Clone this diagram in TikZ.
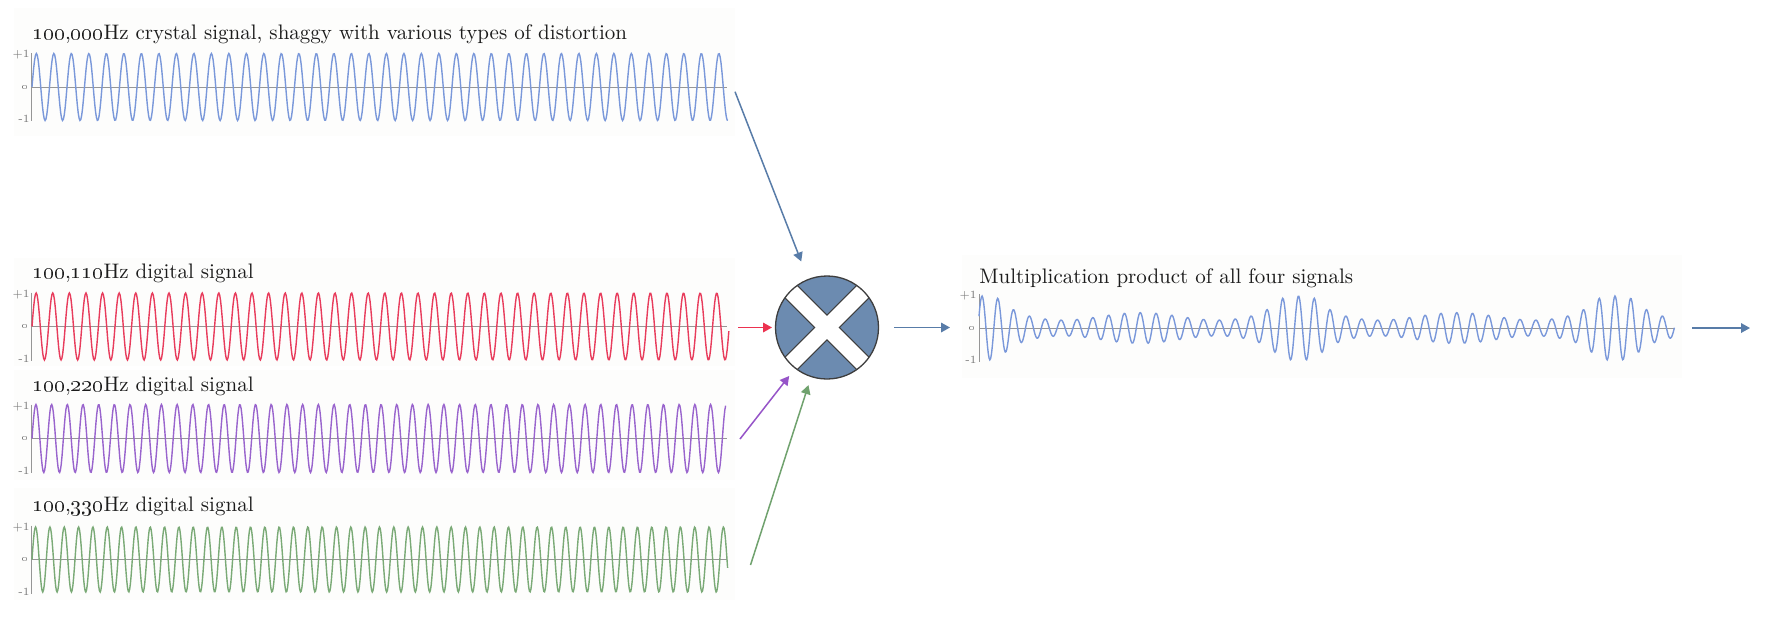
\documentclass[tikz,border=0pt]{standalone}
\usetikzlibrary{arrows.meta,calc}
\definecolor{wblue}{RGB}{122,152,218}
\definecolor{wred}{RGB}{232,60,92}
\definecolor{wpurple}{RGB}{153,100,205}
\definecolor{wgreen}{RGB}{122,170,118}
\definecolor{asteel}{RGB}{88,124,168}
\definecolor{ared}{RGB}{236,50,80}
\definecolor{apurple}{RGB}{150,84,200}
\definecolor{agreen}{RGB}{112,162,110}
\definecolor{circfill}{RGB}{108,139,176}
\definecolor{circline}{RGB}{62,62,62}
\definecolor{axgray}{RGB}{150,150,150}
\definecolor{labgray}{RGB}{120,120,120}
\definecolor{titlecol}{RGB}{28,28,28}
\definecolor{panelbg}{RGB}{253,253,252}
\begin{document}
\begin{tikzpicture}[x=0.5pt,y=-0.5pt,
  panel/.style={fill=panelbg},
  zeroline/.style={draw=axgray,line width=0.5pt},
  wave/.style={line width=0.7pt},
  lab/.style={font=\fontsize{5.5}{6}\selectfont,text=labgray,inner sep=0pt,anchor=east},
  ttl/.style={font=\fontsize{10.5}{12}\selectfont,text=titlecol,inner sep=0pt,anchor=base west},
  conn/.style={line width=0.75pt,-{Triangle[length=4.5pt,width=4.8pt]}},
  mulnode/.style={circle,minimum size=51.5pt,inner sep=0pt,outer sep=0pt,fill=circfill},
  declare function={
    dd(\t)=abs(\t-round(\t));
    qq(\t)=dd(\t)/0.08;
    gg(\t)=1/(1+qq(\t)*qq(\t)*qq(\t)*qq(\t));
    env(\t)=gg(\t)+(1-gg(\t))*(0.36+0.12*cos(720*frac(\t)));
  }
]
\useasboundingbox (0,0) rectangle (1783,639);
\fill[white] (0,0) rectangle (1783,639);

% panel backgrounds
\path[panel] (14,8) rectangle (735,136);
\path[panel] (14,258) rectangle (735,366);
\path[panel] (14,370) rectangle (735,480);
\path[panel] (14,488) rectangle (735,600);
\path[panel] (962,255) rectangle (1682,378);

% titles
\node[ttl] (t1) at (32,39.3) {\oldstylenums{100},\oldstylenums{000}Hz crystal signal, shaggy with various types of distortion};
\node[ttl] (t2) at (32,278.5) {\oldstylenums{100},\oldstylenums{110}Hz digital signal};
\node[ttl] (t3) at (32,391) {\oldstylenums{100},\oldstylenums{220}Hz digital signal};
\node[ttl] (t4) at (32,511.5) {\oldstylenums{100},\oldstylenums{330}Hz digital signal};
\node[ttl] (t5) at (979,283) {Multiplication product of all four signals};

% axes of the left panels
\foreach \ax/\nm in {87/a, 326.5/b, 438.5/c, 559.5/d}{
  \draw[zeroline] (31,\ax-34) -- (31,\ax+34);
  \draw[zeroline] (31,\ax) -- (727,\ax);
  \node[lab] (p\nm) at (30,\ax-32) {+1};
  \node[lab] (z\nm) at (29,\ax) {\oldstylenums{0}};
  \node[lab] (m\nm) at (30,\ax+32) {-1};
}
% axes of the product panel
\draw[zeroline] (979.3,294) -- (979.3,362);
\draw[zeroline] (979.3,328) -- (1675,328);
\node[lab] (pe) at (977,296) {+1};
\node[lab] (ze) at (976,328) {\oldstylenums{0}};
\node[lab] (me) at (977,360) {-1};

% waves
\draw[wave,wblue] plot[domain=0:39.77,samples=800] ({32+17.5*\x},{87-33.5*sin(360*frac(\x))});
\draw[wave,wred] plot[domain=0:41.99,samples=840] ({32+16.6*\x},{326.5-33.5*sin(360*frac(\x))});
\draw[wave,wpurple] plot[domain=0:44.21,samples=880] ({32+15.69*\x},{438.5-34*sin(360*frac(\x))});
\draw[wave,wgreen] plot[domain=0:48.55,samples=970] ({32+14.33*\x},{559.5-32.5*sin(360*frac(\x))});
\draw[wave,wblue] plot[domain=0.9905:3.1896,samples=900]
  ({982+316.5*(\x-1)},{328-32*env(\x)*cos(360*frac(20*\x))});

% multiplier
\node[mulnode] (mult) at (827,327.5) {};
\begin{scope}
  \clip (mult.center) circle[radius=51.5];
  \foreach \ang in {45,-45}{
    \draw[circline,line width=1.3pt,rotate around={\ang:(mult.center)}] ($(mult.center)+(-70,-8)$) rectangle ($(mult.center)+(70,8)$);
  }
  \foreach \ang in {45,-45}{
    \fill[white,rotate around={\ang:(mult.center)}] ($(mult.center)+(-70,-8)$) rectangle ($(mult.center)+(70,8)$);
  }
\end{scope}
\draw[circline,line width=0.65pt] (mult.center) circle[radius=51.5];

% connectors
\coordinate (s1) at (735,91.7);
\coordinate (s2) at (738.3,327.5);
\coordinate (s3) at (740,439);
\coordinate (s4) at (750.5,565);
\coordinate (o1) at (950,327.5);
\coordinate (o2s) at (1692,328);
\coordinate (o2e) at (1750,328);
\draw[conn,asteel,shorten >=9.7pt] (s1) -- (mult);
\draw[conn,ared,shorten >=1.75pt] (s2) -- (mult);
\draw[conn,apurple,shorten >=5pt] (s3) -- (mult);
\draw[conn,agreen,shorten >=4.5pt] (s4) -- (mult);
\draw[conn,asteel,shorten <=7.9pt] (mult) -- (o1);
\draw[conn,asteel] (o2s) -- (o2e);
\end{tikzpicture}
\end{document}
